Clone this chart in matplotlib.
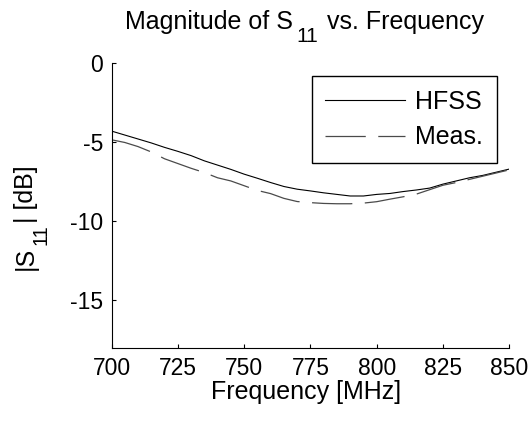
import numpy as np
import matplotlib
matplotlib.use('Agg')
import matplotlib.pyplot as plt

# frequency grid [MHz] and |S11| [dB]
freq = [700, 705, 710, 715, 720, 725, 730, 735, 740, 745, 750, 755, 760, 765, 770,
        775, 780, 785, 790, 795, 800, 805, 810, 815, 820, 825, 830, 835, 840, 845, 850]
hfss = [-4.30, -4.55, -4.80, -5.05, -5.33, -5.58, -5.85, -6.18, -6.45, -6.72, -7.02,
        -7.28, -7.55, -7.80, -7.97, -8.08, -8.20, -8.30, -8.40, -8.40, -8.30, -8.24,
        -8.12, -8.02, -7.90, -7.65, -7.45, -7.25, -7.10, -6.90, -6.70]
meas = [-4.85, -5.02, -5.28, -5.62, -6.05, -6.35, -6.65, -6.92, -7.25, -7.45, -7.75,
        -8.05, -8.25, -8.55, -8.75, -8.82, -8.87, -8.89, -8.89, -8.85, -8.76, -8.60,
        -8.45, -8.28, -8.00, -7.72, -7.55, -7.35, -7.15, -6.95, -6.75]
xticks = [700, 725, 750, 775, 800, 825, 850]
yticks = [0, -5, -10, -15]

plt.rcParams['font.family'] = ['Liberation Sans', 'DejaVu Sans']
plt.rcParams['axes.unicode_minus'] = False
plt.rcParams['lines.scale_dashes'] = False

fig = plt.figure(figsize=(5.32, 4.21), dpi=100)
ax = fig.add_axes([0.2096, 0.1734, 0.7477, 0.677])

ax.plot(freq, hfss, color='black', lw=0.8, label='HFSS')
ax.plot(freq, meas, color='#4a4a4a', lw=0.9, dashes=(29, 9), label='Meas.')

ax.set_xlim(700, 850)
ax.set_ylim(-18, 0)
ax.set_xticks(xticks)
ax.set_yticks(yticks)
ax.spines['top'].set_visible(False)
ax.spines['right'].set_visible(False)
ax.spines['left'].set_linewidth(0.8)
ax.spines['bottom'].set_linewidth(0.8)
ax.tick_params(direction='in', length=3, width=0.8, labelsize=16.5)
ax.tick_params(axis='x', pad=6.5)
ax.tick_params(axis='y', pad=6)

ax.set_xlabel('Frequency [MHz]', fontsize=18)
ax.xaxis.set_label_coords(0.488, -0.178)
ax.xaxis.label.set_va('baseline')

# title with MATLAB-style subscript (big and low)
t1 = fig.text(125, 392, 'Magnitude of S', transform=None, fontsize=18,
              ha='left', va='baseline')
t2 = ax.annotate('11', xy=(1, 379), xycoords=(t1, 'figure pixels'),
                 xytext=(2.5, 0), textcoords='offset points', fontsize=15,
                 ha='left', va='baseline')
ax.annotate(' vs. Frequency', xy=(1, 392), xycoords=(t2, 'figure pixels'),
            xytext=(1, 0), textcoords='offset points', fontsize=18,
            ha='left', va='baseline')

# y label, same trick rotated
y1 = ax.annotate('|S', xy=(33, 151), xycoords='figure pixels', fontsize=18,
                 rotation=90, rotation_mode='anchor', ha='left', va='baseline')
y2 = ax.annotate('11', xy=(47, 1), xycoords=('figure pixels', y1),
                 xytext=(0, 1.5), textcoords='offset points', fontsize=14.5,
                 rotation=90, rotation_mode='anchor', ha='left', va='baseline')
ax.annotate('| [dB]', xy=(33, 1), xycoords=('figure pixels', y2),
            xytext=(0, 1), textcoords='offset points', fontsize=18,
            rotation=90, rotation_mode='anchor', ha='left', va='baseline')

leg = ax.legend(loc='upper right', bbox_to_anchor=(0.969, 0.954), borderaxespad=0,
                fancybox=False, framealpha=1, edgecolor='black', handlelength=3.2,
                handletextpad=0.4, fontsize=18, borderpad=0.55, labelspacing=0.46)
leg.get_frame().set_linewidth(1.0)

plt.savefig('out.png', dpi=100)
